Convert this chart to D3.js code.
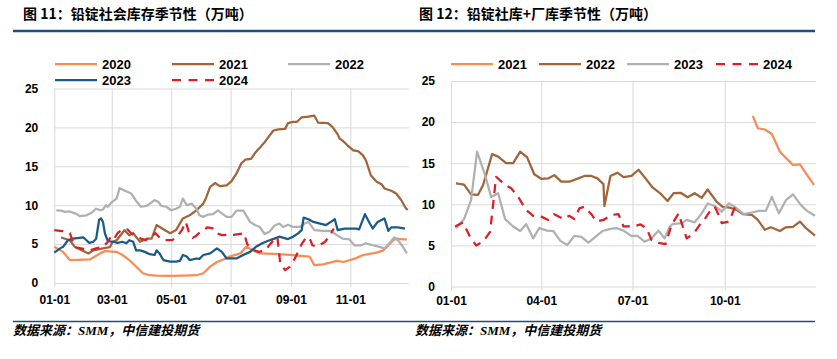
<!DOCTYPE html>
<html><head><meta charset="utf-8">
<script src="https://cdn.jsdelivr.net/npm/d3@7"></script>
<style>
body{margin:0;background:#fff;}
svg{display:block;}
.tick text{font-family:"Liberation Sans",Arial,sans-serif;font-weight:bold;font-size:12px;fill:#000;}
</style></head><body>
<svg id="c" width="837" height="359"></svg>
<script>
// ---------- DATA ----------
const yTicks = [0, 5, 10, 15, 20, 25];
const leftXTicks = ["01-01","03-01","05-01","07-01","09-01","11-01"];
const rightXTicks = ["01-01","04-01","07-01","10-01"];

const leftTitle = "图 11：铅锭社会库存季节性（万吨）";
const rightTitle = "图 12：铅锭社库+厂库季节性（万吨）";
const sourceText = "数据来源：SMM，中信建投期货";

const leftYears = ["2020","2021","2022","2023","2024"];
const rightYears = ["2021","2022","2023","2024"];

// Figure 11 – social inventory (10k t)
const left2020 = [["01-01",4.65],["01-10",4.0],["01-17",2.95],["02-07",3.05],["02-17",3.8],["02-22",4.1],["03-06",4.0],["03-12",3.6],["03-19",2.95],["04-02",1.25],["04-09",1.0],["04-16",0.95],["04-30",0.9],["05-13",0.94],["05-27",1.0],["06-03",1.25],["06-10",2.1],["06-17",2.7],["06-27",3.2],["06-30",3.4],["07-11",3.8],["07-17",4.65],["07-24",4.2],["07-31",3.8],["08-14",3.75],["08-31",3.6],["09-20",3.4],["09-25",2.3],["10-04",2.4],["10-18",2.85],["10-25",2.7],["11-07",3.2],["11-14",3.6],["11-28",3.9],["12-05",4.2],["12-15",5.5],["12-18",5.7],["12-25",5.6],["12-29",5.6]];
const left2021 = [["01-08",5.85],["01-17",5.5],["01-22",4.65],["01-27",4.35],["02-05",3.8],["02-10",4.2],["02-20",4.45],["02-27",4.6],["03-02",5.3],["03-06",5.5],["03-11",6.3],["03-14",6.8],["03-19",6.15],["03-23",6.4],["03-30",5.3],["04-06",5.7],["04-11",5.7],["04-16",7.45],["04-23",6.9],["04-30",6.4],["05-06",6.8],["05-13",8.3],["05-20",8.7],["05-27",9.35],["06-03",10.2],["06-06",11.0],["06-10",12.35],["06-15",12.85],["06-20",12.45],["06-27",12.55],["07-02",13.1],["07-07",14.05],["07-12",15.35],["07-16",15.85],["07-22",15.95],["07-27",16.85],["08-05",18.1],["08-14",19.6],["08-19",19.75],["08-26",19.8],["08-29",20.55],["09-03",20.7],["09-07",20.7],["09-12",21.3],["09-19",21.4],["09-25",21.5],["09-29",20.6],["10-09",20.55],["10-14",20.0],["10-19",19.1],["10-21",18.55],["10-24",18.3],["10-29",17.7],["11-04",17.05],["11-09",16.95],["11-14",16.4],["11-17",15.75],["11-22",13.85],["11-28",13.0],["12-03",12.7],["12-06",12.15],["12-13",11.85],["12-18",11.5],["12-23",10.7],["12-28",9.6],["12-30",9.4]];
const left2022 = [["01-03",9.35],["01-08",9.3],["01-12",9.15],["01-17",9.2],["01-24",8.85],["01-27",8.6],["02-03",8.7],["02-08",9.0],["02-13",9.55],["02-17",9.35],["02-20",9.45],["02-23",10.0],["02-25",9.8],["03-01",10.4],["03-06",10.85],["03-09",12.2],["03-14",11.9],["03-21",11.5],["03-26",10.55],["03-31",9.8],["04-06",9.9],["04-09",10.2],["04-14",10.65],["04-18",10.4],["04-21",9.9],["04-26",9.8],["05-01",9.35],["05-06",9.55],["05-10",9.8],["05-13",10.85],["05-17",10.0],["05-22",10.2],["05-27",9.55],["05-30",8.7],["06-03",8.5],["06-08",8.8],["06-13",8.85],["06-18",9.35],["06-23",8.85],["06-27",8.5],["07-02",8.5],["07-07",9.3],["07-14",9.3],["07-21",7.85],["07-26",7.45],["07-31",7.2],["08-05",6.3],["08-10",6.6],["08-15",7.35],["08-20",7.65],["08-24",7.2],["08-29",7.5],["09-03",7.2],["09-10",7.2],["09-15",7.65],["09-19",7.85],["09-25",6.8],["10-04",6.7],["10-12",6.7],["10-18",6.15],["10-24",5.7],["10-31",5.6],["11-05",4.85],["11-12",4.85],["11-17",5.1],["11-24",4.85],["12-01",4.65],["12-06",4.45],["12-11",5.1],["12-16",5.85],["12-20",5.5],["12-25",4.65],["12-29",3.8]];
const left2023 = [["01-01",3.9],["01-07",4.45],["01-10",4.65],["01-15",5.5],["01-20",5.7],["01-27",5.8],["01-31",5.85],["02-03",5.5],["02-06",5.15],["02-10",5.3],["02-13",5.7],["02-16",8.1],["02-18",8.3],["02-20",7.85],["02-22",6.35],["02-25",5.4],["03-02",5.3],["03-07",5.15],["03-12",5.3],["03-16",5.1],["03-19",5.5],["03-23",5.3],["03-26",4.2],["03-30",4.2],["04-04",4.0],["04-09",3.7],["04-14",3.6],["04-16",4.2],["04-19",3.8],["04-23",2.95],["04-30",2.75],["05-06",2.75],["05-10",2.85],["05-13",3.6],["05-17",3.4],["05-20",2.95],["05-27",3.15],["05-30",3.1],["06-03",3.6],["06-10",3.8],["06-17",4.45],["06-22",4.0],["06-27",3.15],["07-07",3.15],["07-14",3.6],["07-21",4.0],["07-27",4.65],["08-03",5.15],["08-08",5.4],["08-15",5.7],["08-20",5.95],["08-29",5.65],["09-03",5.95],["09-08",6.35],["09-12",6.8],["09-14",8.4],["09-19",8.2],["09-24",7.85],["09-29",7.7],["10-07",7.45],["10-12",7.85],["10-16",8.2],["10-19",6.8],["10-26",7.0],["11-02",7.0],["11-07",7.0],["11-10",6.9],["11-16",8.85],["11-21",7.65],["11-24",7.0],["11-29",7.85],["12-06",8.3],["12-10",6.7],["12-13",7.15],["12-20",7.15],["12-27",7.0]];
const left2024 = [["01-01",6.8],["01-07",6.7],["01-14",6.6],["01-17",6.4],["01-22",4.6],["01-31",4.4],["02-07",4.2],["02-13",4.45],["02-20",4.65],["02-25",5.3],["03-01",6.15],["03-04",5.8],["03-07",6.4],["03-12",6.9],["03-17",6.9],["03-21",6.4],["03-26",5.95],["03-31",5.7],["04-05",5.5],["04-10",5.95],["04-15",6.4],["04-20",5.7],["04-25",5.5],["05-02",5.5],["05-07",5.95],["05-12",6.8],["05-16",7.85],["05-19",6.6],["05-23",5.8],["05-26",6.0],["05-31",6.6],["06-04",6.8],["06-07",7.15],["06-14",7.0],["06-17",6.4],["06-22",6.15],["06-29",6.2],["07-04",6.2],["07-15",6.4],["07-18",5.0],["07-23",4.3],["07-30",4.0],["08-06",4.2],["08-09",4.75],["08-14",5.5],["08-18",5.95],["08-21",2.5],["08-26",1.65],["08-31",2.1],["09-05",3.15],["09-12",5.0],["09-17",5.95],["09-21",5.5],["09-23",4.85],["09-28",4.65],["10-06",5.3],["10-10",5.95],["10-15",7.0]];

// Figure 12 – social + plant inventory (10k t)
const right2021 = [["10-29",20.75],["11-03",19.25],["11-10",19.1],["11-17",18.55],["11-25",16.4],["12-01",15.65],["12-08",14.8],["12-15",14.85],["12-21",13.75],["12-29",12.35]];
const right2022 = [["01-06",12.55],["01-14",12.4],["01-21",11.2],["01-28",11.15],["02-02",12.35],["02-11",16.1],["02-17",15.8],["02-25",15.0],["03-04",15.0],["03-11",16.4],["03-18",15.7],["03-25",13.65],["04-01",13.1],["04-08",13.15],["04-14",13.55],["04-21",12.75],["04-29",12.75],["05-08",13.15],["05-14",13.45],["05-21",13.45],["05-27",13.15],["06-02",12.45],["06-03",9.8],["06-09",13.45],["06-16",13.85],["06-22",13.3],["06-30",13.45],["07-07",14.2],["07-14",13.15],["07-21",12.05],["07-28",11.4],["08-05",10.4],["08-11",11.35],["08-18",11.4],["08-25",10.85],["09-01",11.35],["09-08",10.8],["09-14",11.8],["09-23",10.3],["09-29",9.7],["10-06",9.6],["10-13",9.3],["10-19",8.8],["10-28",8.7],["11-03",8.1],["11-10",6.9],["11-16",7.2],["11-25",6.75],["12-01",7.2],["12-08",7.25],["12-15",7.9],["12-21",7.1],["12-30",6.2]];
const right2023 = [["01-06",7.1],["01-14",8.2],["01-21",10.5],["01-27",16.4],["02-04",13.55],["02-10",10.9],["02-17",11.35],["02-24",8.2],["03-04",7.3],["03-11",6.75],["03-17",7.6],["03-24",5.85],["03-30",7.1],["04-07",6.8],["04-13",6.75],["04-20",5.55],["04-27",5.05],["05-04",6.15],["05-11",6.05],["05-18",5.35],["05-25",6.05],["06-01",6.75],["06-09",7.0],["06-15",7.1],["06-22",6.8],["06-30",6.15],["07-06",6.15],["07-13",5.45],["07-20",5.85],["07-27",6.8],["08-02",5.85],["08-07",7.25],["08-10",7.6],["08-19",7.7],["08-24",8.1],["09-01",7.8],["09-08",8.9],["09-14",10.1],["09-21",9.8],["09-28",9.1],["10-05",10.1],["10-11",9.7],["10-20",8.8],["10-28",9.0],["11-04",9.2],["11-11",9.2],["11-17",10.9],["11-24",8.9],["12-01",10.5],["12-08",11.2],["12-16",9.9],["12-22",9.2],["12-30",8.6]];
const right2024 = [["01-05",7.3],["01-13",7.8],["01-20",6.05],["01-26",5.0],["02-02",5.45],["02-09",6.65],["02-15",13.35],["02-24",12.35],["03-02",11.95],["03-09",10.9],["03-17",9.3],["03-24",8.6],["04-01",8.5],["04-08",8.1],["04-14",8.8],["04-23",8.2],["04-29",8.6],["05-04",8.2],["05-09",9.5],["05-14",9.7],["05-21",8.8],["05-26",7.9],["06-02",8.1],["06-10",8.7],["06-17",8.8],["06-22",7.3],["07-02",7.3],["07-09",7.55],["07-15",7.1],["07-20",5.65],["07-27",5.3],["08-03",5.15],["08-09",7.5],["08-16",8.9],["08-19",7.7],["08-24",5.85],["08-31",6.45],["09-06",7.5],["09-11",8.2],["09-16",9.1],["09-21",9.7],["09-25",8.7],["09-28",7.7],["10-05",7.9],["10-08",8.7],["10-12",9.9]];

// ---------- STYLE ----------
const C = {orange:"#f78c55", brown:"#a0653a", gray:"#b0b0b0", blue:"#1a5a88", red:"#dc1f26"};
const GRID = "#d9d9d9";
const RULE = "#1f4e79";

const parse = d3.timeParse("%m-%d");
const svg = d3.select("#c");

// header / footer rules and texts
svg.append("line").attr("x1",13).attr("x2",815).attr("y1",31).attr("y2",31).attr("stroke",RULE).attr("stroke-width",2.5);
svg.append("line").attr("x1",13).attr("x2",815).attr("y1",321.5).attr("y2",321.5).attr("stroke",RULE).attr("stroke-width",1.3);

function title(x, txt){
  svg.append("text").attr("x",x).attr("y",18.5).text(txt)
    .attr("font-family","'Noto Sans CJK SC',sans-serif").attr("font-weight","bold").attr("font-size",14).attr("fill","#000");
}
function source(x){
  svg.append("text").attr("x",x).attr("y",334.5).text(sourceText)
    .attr("font-family","'Liberation Serif','Noto Sans CJK SC',serif").attr("font-weight","bold")
    .attr("font-style","italic").attr("font-size",13).attr("fill","#000");
}
title(23, leftTitle);
title(419, rightTitle);
source(13);
source(415);

function drawChart(cfg){
  const x = d3.scaleTime().domain([parse("01-01"), parse("12-31")]).range([cfg.x0, cfg.x1]);
  const y = d3.scaleLinear().domain([0,25]).range([cfg.yb, cfg.yt]);
  const g = svg.append("g");

  g.append("g").attr("transform",`translate(${cfg.x0},0)`)
    .call(d3.axisLeft(y).tickValues(yTicks).tickSize(-(cfg.x1-cfg.x0)).tickFormat(""))
    .call(s=>s.select(".domain").remove())
    .selectAll("line").attr("stroke",GRID);

  g.append("g").attr("transform",`translate(0,${cfg.yt})`)
    .call(d3.axisTop(x).tickValues(cfg.xTicks.map(parse)).tickSize(-(cfg.yb-cfg.yt+4)).tickFormat(""))
    .call(s=>s.select(".domain").remove())
    .selectAll("line").attr("stroke",GRID);

  g.append("g").attr("transform",`translate(${cfg.x0},0)`)
    .call(d3.axisLeft(y).tickValues(yTicks).tickSize(0).tickPadding(16))
    .call(s=>s.select(".domain").remove());

  g.append("g").attr("transform",`translate(0,${cfg.yb})`)
    .call(d3.axisBottom(x).tickValues(cfg.xTicks.map(parse)).tickSize(0).tickPadding(cfg.xPad).tickFormat(d3.timeFormat("%m-%d")))
    .call(s=>s.select(".domain").remove());

  const line = d3.line().x(d=>x(parse(d[0]))).y(d=>y(d[1]));
  cfg.series.forEach(s=>{
    g.append("path").datum(s.data).attr("d",line)
      .attr("fill","none").attr("stroke",s.color).attr("stroke-width",2.25)
      .attr("stroke-linejoin","round")
      .attr("stroke-dasharray", s.dash ? "9,6.75" : null);
  });

  // legend
  cfg.legend.forEach((it,i)=>{
    const s = cfg.series[i];
    g.append("line").attr("x1",it[0]).attr("x2",it[0]+42).attr("y1",it[1]).attr("y2",it[1])
      .attr("stroke",s.color).attr("stroke-width",2.25).attr("stroke-dasharray", s.dash ? "9,7.5" : null);
    g.append("text").attr("x",it[0]+47).attr("y",it[1]).attr("dy","0.36em").text(s.name)
      .attr("font-family","'Liberation Sans',Arial,sans-serif").attr("font-weight","bold").attr("font-size",13);
  });
}

drawChart({
  x0:54.3, x1:408.8, yt:88.5, yb:283, xPad:12, xTicks:leftXTicks,
  series:[
    {name:leftYears[0], data:left2020, color:C.orange},
    {name:leftYears[1], data:left2021, color:C.brown},
    {name:leftYears[2], data:left2022, color:C.gray},
    {name:leftYears[3], data:left2023, color:C.blue},
    {name:leftYears[4], data:left2024, color:C.red, dash:true}
  ],
  legend:[[55,64],[172,64],[288,64],[55,80],[172,80]]
});

drawChart({
  x0:451, x1:816, yt:81, yb:286.5, xPad:9.5, xTicks:rightXTicks,
  series:[
    {name:rightYears[0], data:right2021, color:C.orange},
    {name:rightYears[1], data:right2022, color:C.brown},
    {name:rightYears[2], data:right2023, color:C.gray},
    {name:rightYears[3], data:right2024, color:C.red, dash:true}
  ],
  legend:[[451,64],[539,64],[627,64],[716,64]]
});
</script></body></html>
